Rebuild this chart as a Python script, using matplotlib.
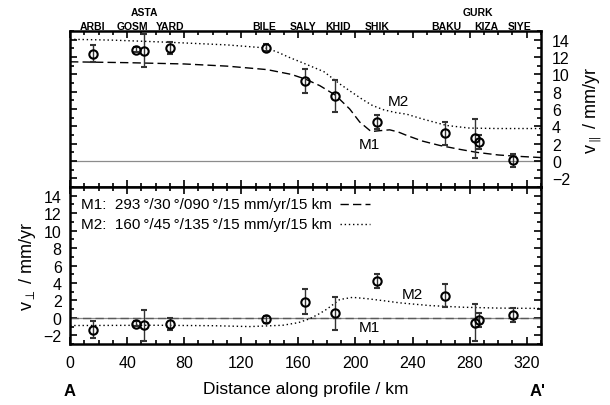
import matplotlib
matplotlib.use("Agg")
import matplotlib.pyplot as plt
from matplotlib.ticker import MultipleLocator

plt.rcParams['font.family'] = ['Liberation Sans', 'DejaVu Sans']
plt.rcParams['mathtext.fontset'] = 'custom'
plt.rcParams['mathtext.rm'] = 'Liberation Sans'
plt.rcParams['mathtext.it'] = 'Liberation Sans:italic'

# stations along the profile
stations = ['ARBI', 'GOSM', 'ASTA', 'YARD', 'BILE', 'SALY', 'KHID',
            'SHIK', 'BAKU', 'GURK', 'KIZA', 'SIYE']
dist = [16, 46, 52, 70, 137, 165, 186, 215, 263, 284, 286.5, 310.5]

# profile-parallel velocity (mm/yr) and errors
v_par = [12.4, 12.85, 12.75, 13.0, 13.05, 9.25, 7.45, 4.5, 3.2, 2.6, 2.2, 0.1]
e_par = [0.95, 0.3, 1.85, 0.7, 0.4, 1.4, 1.85, 0.8, 1.35, 2.2, 0.85, 0.75]

# profile-perpendicular velocity (mm/yr) and errors
v_perp = [-1.35, -0.65, -0.85, -0.7, -0.15, 1.85, 0.5, 4.25, 2.55, -0.55, -0.25, 0.3]
e_perp = [0.95, 0.3, 1.8, 0.65, 0.4, 1.45, 1.85, 0.8, 1.35, 2.15, 0.85, 0.8]

# station label positions (km) and row (0 = lower, 1 = upper)
label_x = [16, 43.5, 52, 70, 136, 163, 188, 215, 264, 286, 292, 315]
label_row = [0, 0, 1, 0, 0, 0, 0, 0, 0, 1, 0, 0]

# model M1 (dashed), parallel component
m1_x = [0, 40, 80, 110, 138, 155, 165, 175, 186, 196, 203, 211, 217, 224, 230,
        236, 247, 259, 273, 285, 300, 313, 330]
m1_par = [11.45, 11.35, 11.2, 10.95, 10.55, 10.0, 9.45, 8.7, 7.6, 6.0, 4.5, 3.4,
          3.5, 3.6, 3.35, 2.95, 2.3, 1.8, 1.35, 1.0, 0.7, 0.55, 0.4]
# model M2 (dotted), parallel component
m2_x = [0, 30, 70, 110, 137, 145, 153, 165, 178, 189, 196, 205, 212, 220, 228,
        236, 247, 264, 280, 300, 330]
m2_par = [14.05, 13.95, 13.7, 13.4, 13.05, 12.6, 12.0, 11.2, 10.3, 8.9, 8.1, 7.1,
          6.4, 5.9, 5.6, 5.4, 4.85, 4.1, 3.8, 3.75, 3.75]
# perpendicular components
m1p_x = [0, 330]
m1_perp = [0, 0]
m2p_x = [0, 60, 100, 126, 149, 160, 168, 175, 180, 189, 198, 208, 219, 231,
         252, 275, 300, 330]
m2_perp = [-0.88, -0.85, -0.9, -1.0, -0.85, -0.55, -0.1, 0.5, 1.0, 2.1, 2.35,
           2.2, 1.98, 1.72, 1.41, 1.22, 1.12, 1.08]

fig = plt.figure(figsize=(6.1, 4.06), dpi=100)
ax1 = fig.add_axes([0.1148, 0.5369, 0.772, 0.3842])
ax2 = fig.add_axes([0.1148, 0.1502, 0.772, 0.3867])

for ax in (ax1, ax2):
    ax.set_xlim(0, 330)
    ax.set_ylim(-3, 15)
    ax.xaxis.set_major_locator(MultipleLocator(40))
    ax.xaxis.set_minor_locator(MultipleLocator(10))
    ax.yaxis.set_major_locator(MultipleLocator(2))
    ax.yaxis.set_minor_locator(MultipleLocator(1))
    ax.tick_params(which='both', direction='in', top=True, right=True,
                   width=1.2, labelsize=11.5)
    ax.tick_params(which='major', length=5)
    ax.tick_params(which='minor', length=3)
    for s in ax.spines.values():
        s.set_linewidth(1.8)
    ax.axhline(0, color='0.55', lw=0.9, zorder=1)

ax1.tick_params(labelbottom=False, labelleft=False, labelright=True, pad=8)
ax1.yaxis.set_label_position('right')
ax1.set_ylabel(r'$\mathrm{v}_{\parallel}$ / mm/yr', fontsize=13, labelpad=8)

ax2.tick_params(axis='y', pad=6)
ax2.tick_params(axis='x', pad=8)
ax2.set_ylabel(r'$\mathrm{v}_{\perp}$ / mm/yr', fontsize=13, labelpad=4)
ax2.set_xlabel('Distance along profile / km', fontsize=12.5, labelpad=8)

# model curves
ax1.plot(m1_x, m1_par, color='k', ls=(0, (6, 3)), lw=1.0, zorder=2)
ax1.plot(m2_x, m2_par, color='k', ls=(0, (1, 2)), lw=1.0, zorder=2)
ax2.plot(m1p_x, m1_perp, color='0.35', ls=(0, (6, 3)), lw=1.0, zorder=2)
ax2.plot(m2p_x, m2_perp, color='k', ls=(0, (1, 2)), lw=1.0, zorder=2)

# observations
for ax, v, e in ((ax1, v_par, e_par), (ax2, v_perp, e_perp)):
    ax.errorbar(dist, v, yerr=e, fmt='o', mfc='none', mec='k', mew=1.5,
                ms=6, ecolor='0.2', elinewidth=1.0, capsize=2.5,
                capthick=1.0, zorder=3)

# station names above the top panel
trans = ax1.get_xaxis_transform()
for name, lx, row in zip(stations, label_x, label_row):
    ax1.text(lx, 1.032 + 0.09 * row, name, transform=trans, ha='center',
             va='center', fontsize=7.5, fontweight='bold')

# model labels
ax1.text(230, 6.9, 'M2', fontsize=11, ha='center', va='center')
ax1.text(210, 2.0, 'M1', fontsize=11, ha='center', va='center')
ax2.text(240, 2.7, 'M2', fontsize=11, ha='center', va='center')
ax2.text(210, -1.1, 'M1', fontsize=11, ha='center', va='center')

# legend
deg = '\u2009\u00b0'
ax2.text(0.023, 0.892, f'M1:  293{deg}/30{deg}/090{deg}/15 mm/yr/15 km',
         transform=ax2.transAxes, fontsize=11, va='center')
ax2.text(0.023, 0.764, f'M2:  160{deg}/45{deg}/135{deg}/15 mm/yr/15 km',
         transform=ax2.transAxes, fontsize=11, va='center')
ax2.plot([0.574, 0.637], [0.892, 0.892], transform=ax2.transAxes, color='k',
         ls=(0, (6, 3)), lw=1.0)
ax2.plot([0.574, 0.637], [0.764, 0.764], transform=ax2.transAxes, color='k',
         ls=(0, (1, 2)), lw=1.0)

# profile end labels
fig.text(70 / 610, 1 - 392 / 406, 'A', fontsize=12, fontweight='bold',
         ha='center', va='center')
fig.text(538 / 610, 1 - 392 / 406, "A'", fontsize=12, fontweight='bold',
         ha='center', va='center')

fig.savefig('out.png', dpi=100)
